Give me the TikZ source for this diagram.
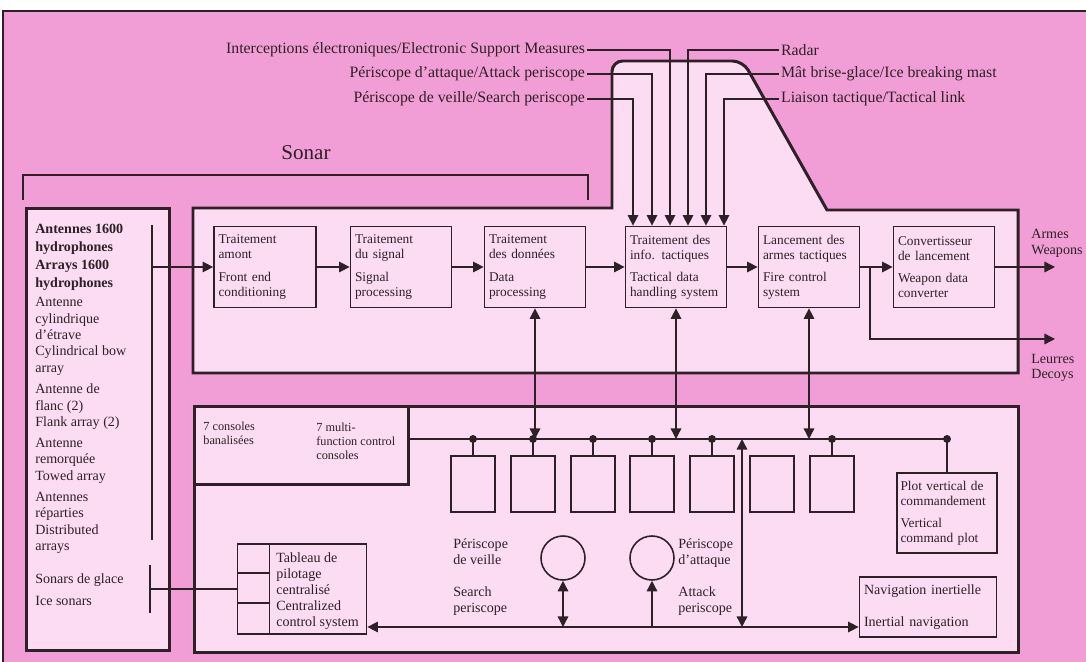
\documentclass[tikz,border=0pt]{standalone}
\usepackage{fontspec}
\setmainfont{Liberation Serif}
\usetikzlibrary{arrows.meta,calc}
\definecolor{pinkbg}{RGB}{242,158,214}
\definecolor{pinkbox}{RGB}{251,220,242}
\definecolor{ink}{RGB}{45,32,38}
\hyphenpenalty=10000

\begin{document}
\begin{tikzpicture}[x=0.02cm,y=-0.02cm,color=ink,font=\fontsize{8}{9}\selectfont,frame/.style={draw,line width=1.7pt,fill=pinkbox,inner sep=0pt},box/.style={draw,line width=1pt,fill=pinkbox,align=left,inner xsep=0.09cm,inner ysep=2pt,text width=#1,minimum height=1.62cm,font=\fontsize{7.6}{8.6}\selectfont},box/.default=1.84cm,cbox/.style={draw,line width=0.8pt,fill=pinkbox,minimum width=0.88cm,minimum height=1.12cm},lbl/.style={font=\fontsize{9}{10}\selectfont,inner sep=1pt},txt/.style={align=left,inner sep=0pt},arr/.style={line width=0.8pt,-{Triangle[length=6pt,width=6pt]}},darr/.style={line width=0.8pt,{Triangle[length=6pt,width=6pt]}-{Triangle[length=6pt,width=6pt]}},dot/.style={circle,fill,inner sep=1.6pt}]
\useasboundingbox (0,0) rectangle (1086,662);
\fill[white] (0,0) rectangle (1086,662);
\fill[pinkbg] (3,11) rectangle (1086,662);
\draw[line width=0.6pt] (3,662) -- (3,11) -- (1086,11);

\node[font=\fontsize{12}{14}\selectfont] (sonar) at (306,153) {Sonar};
\draw[line width=0.8pt] (23,200) -- (23,175) -- (588,175) -- (588,200);

\draw[frame] (193,208) -- (612,208) [rounded corners=6pt] -- (612,61) -- (743,61) [sharp corners] -- (827,210) -- (1018,210) -- (1018,373) -- (193,373) -- cycle;
\node[frame,anchor=north west,minimum width=2.86cm,minimum height=8.84cm] (panel) at (25,207) {};
\node[frame,anchor=north west,minimum width=16.48cm,minimum height=4.92cm] (low) at (193,405) {};
\node[frame,anchor=north west,minimum width=4.28cm,minimum height=1.56cm] (cons) at (193,405) {};

\node[lbl,anchor=east] (lesm) at (587,50) {Interceptions électroniques/Electronic Support Measures};
\node[lbl,anchor=east] (latt) at (587,74) {Périscope d'attaque/Attack periscope};
\node[lbl,anchor=east] (lsrch) at (587,99) {Périscope de veille/Search periscope};
\node[lbl,anchor=west] (lrad) at (779,50) {Radar};
\node[lbl,anchor=west] (lmast) at (779,74) {Mât brise-glace/Ice breaking mast};
\node[lbl,anchor=west] (llink) at (779,99) {Liaison tactique/Tactical link};

\node[box=1.86cm] (fe) at (265,267) {Traitement\\amont\\[4pt]Front end\\conditioning};
\node[box] (sp) at (401,267) {Traitement\\du signal\\[4pt]Signal\\processing};
\node[box] (dp) at (535,267) {Traitement\\des données\\[4pt]Data\\processing};
\node[box] (tdh) at (676,267) {Traitement des\\info. tactiques\\[4pt]Tactical data\\handling system};
\node[box] (fc) at (809,267) {Lancement des\\armes tactiques\\[4pt]Fire control\\system};
\node[box] (wdc) at (944,267) {Convertisseur\\de lancement\\[4pt]Weapon data\\converter};
\node[txt,anchor=west] (armes) at (1031,243) {Armes\\Weapons};
\node[txt,anchor=west] (leurres) at (1031,368) {Leurres\\Decoys};

\foreach \i/\n/\x in {1/lsrch.east/633,2/latt.east/652,3/lesm.east/670,4/lrad.west/688,5/lmast.west/706,6/llink.west/724}{
  \coordinate (in\i) at (\x,0);
  \draw[arr] (\n) -| (in\i |- tdh.north);
}

\draw[arr] (fe) -- (sp);
\draw[arr] (sp) -- (dp);
\draw[arr] (dp) -- (tdh);
\draw[arr] (tdh) -- (fc);
\draw[arr] (fc) -- (wdc);
\coordinate (wpn) at (1055,0);
\coordinate (br) at (870,0);
\coordinate (dec) at (1055,339);
\draw[arr] (wdc.east) -- (wpn |- wdc.east);
\draw[arr] (br |- fc.east) |- (dec);

\node[txt,anchor=north west,font=\fontsize{8}{9.3}\selectfont] (arrays) at (35,224) {\textbf{Antennes 1600}\\[1pt]\textbf{hydrophones}\\[1pt]\textbf{Arrays 1600}\\[1pt]\textbf{hydrophones}\\[1.5pt]Antenne\\cylindrique\\d'étrave\\Cylindrical bow\\array\\[3pt]Antenne de\\flanc (2)\\Flank array (2)\\[2.5pt]Antenne\\remorquée\\Towed array\\[3pt]Antennes\\réparties\\Distributed\\arrays};
\node[txt,anchor=west] (ice) at (35,590) {Sonars de glace\\[3.5pt]Ice sonars};
\coordinate (arr1) at (152,225);
\coordinate (arr2) at (152,540);
\coordinate (ice1) at (150,565);
\coordinate (ice2) at (150,613);
\draw[line width=0.8pt] (arr1) -- (arr2);
\draw[line width=0.8pt] (ice1) -- (ice2);
\draw[arr] (arr1 |- fe.west) -- (fe.west);

\node[txt,anchor=west,font=\fontsize{7}{8}\selectfont] (cons1) at (203,433) {7 consoles\\banalisées};
\node[txt,anchor=west,font=\fontsize{7}{8}\selectfont] (cons2) at (316,441) {7 multi-\\function control\\consoles};

\coordinate (bus) at (0,439);
\coordinate (bot) at (0,627);
\foreach \i/\x in {1/473,2/533,3/593,4/652,5/712,6/772,7/832}
  \node[cbox] (c\i) at (\x,484) {};
\node[box=1.86cm,minimum height=1.6cm,inner xsep=0.07cm] (plot) at (947,513) {Plot vertical de\\commandement\\[4pt]Vertical\\command plot};
\node[box=2.56cm,minimum height=1.2cm,inner xsep=0.09cm,font=\fontsize{8}{9}\selectfont] (nav) at (928,607) {Navigation inertielle\\[9pt]Inertial navigation};
\node[draw,line width=1pt,fill=pinkbox,minimum width=2.58cm,minimum height=1.8cm] (ccs) at (302,589) {};
\draw[line width=0.8pt] ($(ccs.north west)+(33,0)$) -- ($(ccs.south west)+(33,0)$);
\draw[line width=0.8pt] ($(ccs.north west)+(0,30)$) -- ++(33,0);
\draw[line width=0.8pt] ($(ccs.north west)+(0,60)$) -- ++(33,0);
\node[txt,anchor=west,font=\fontsize{8}{9.2}\selectfont] (ccst) at (276,591) {Tableau de\\pilotage\\centralisé\\Centralized\\control system};
\draw[line width=0.8pt] (ice1 |- ccs.west) -- (ccs.west);

\draw[line width=0.8pt] (cons.east |- bus) -- (plot.north |- bus) node[dot] {};
\draw[line width=0.8pt] (plot.north) -- (plot.north |- bus);
\foreach \i in {1,2,3,4,5,7}
  \draw[line width=0.8pt] (c\i.north) -- (c\i.north |- bus) node[dot] {};
\foreach \b in {dp,tdh,fc}
  \draw[darr] (\b.south |- bus) -- (\b.south);

\node[circle,draw,line width=0.9pt,minimum size=0.88cm] (sper) at (563,558) {};
\node[circle,draw,line width=0.9pt,minimum size=0.88cm] (aper) at (652,558) {};
\node[txt,anchor=west] (sperl) at (453,577) {Périscope\\de veille\\[9pt]Search\\periscope};
\node[txt,anchor=west] (aperl) at (678,577) {Périscope\\d'attaque\\[9pt]Attack\\periscope};
\draw[darr] (ccs.east |- bot) -- (nav.west |- bot);
\draw[darr] (sper.south) -- (sper.south |- bot);
\draw[arr] (aper.south |- bot) -- (aper.south);
\coordinate (vl) at (742,0);
\draw[darr] (vl |- bus) -- (vl |- bot);
\end{tikzpicture}
\end{document}
